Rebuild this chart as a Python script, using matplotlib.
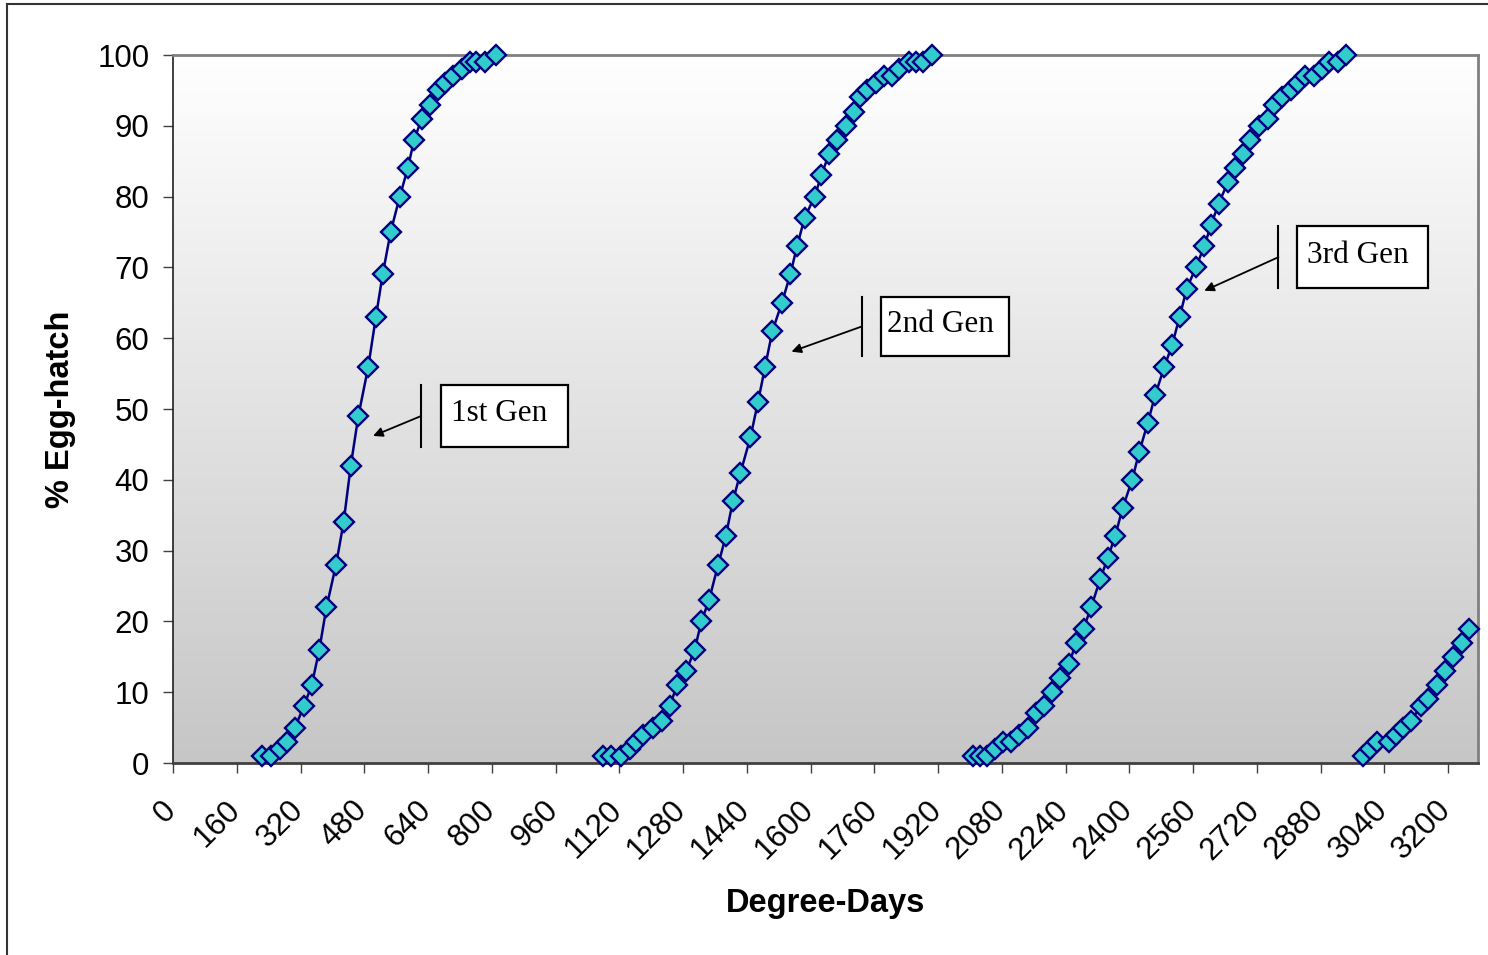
import numpy as np
import matplotlib.pyplot as plt
from matplotlib.colors import LinearSegmentedColormap
from matplotlib.patches import Rectangle
from matplotlib.lines import Line2D
from matplotlib.transforms import ScaledTranslation

plt.rcParams['font.family'] = ['Liberation Sans', 'DejaVu Sans']

# Degree-days and % egg-hatch for each generation
dd_gen1 = [222, 247, 268, 285, 306, 328, 348, 367, 385, 409, 428, 446, 465, 490, 509,
           526, 546, 569, 589, 605, 624, 645, 666, 682, 703, 724, 745, 761, 782, 811]
hatch_gen1 = [1, 1, 2, 3, 5, 8, 11, 16, 22, 28, 34, 42, 49, 56, 63,
              69, 75, 80, 84, 88, 91, 93, 95, 96, 97, 98, 99, 99, 99, 100]

dd_gen2 = [1079, 1100, 1125, 1146, 1163, 1180, 1205, 1226, 1246, 1265, 1288, 1309, 1326, 1345,
           1368, 1387, 1405, 1424, 1449, 1468, 1486, 1504, 1528, 1549, 1566, 1585, 1610, 1627,
           1646, 1665, 1690, 1708, 1723, 1741, 1765, 1783, 1804, 1823, 1848, 1865, 1882, 1905]
hatch_gen2 = [1, 1, 1, 2, 3, 4, 5, 6, 8, 11, 13, 16, 20, 23,
              28, 32, 37, 41, 46, 51, 56, 61, 65, 69, 73, 77, 80, 83,
              86, 88, 90, 92, 94, 95, 96, 97, 97, 98, 99, 99, 99, 100]

dd_gen3 = [2007, 2024, 2042, 2062, 2082, 2103, 2124, 2145, 2166, 2187, 2206, 2225, 2248, 2267,
           2285, 2304, 2327, 2346, 2364, 2383, 2407, 2425, 2446, 2465, 2488, 2507, 2526, 2544,
           2567, 2588, 2605, 2624, 2647, 2664, 2684, 2703, 2726, 2747, 2764, 2783, 2806, 2822,
           2842, 2864, 2883, 2902, 2923, 2944]
hatch_gen3 = [1, 1, 1, 2, 3, 3, 4, 5, 7, 8, 10, 12, 14, 17,
              19, 22, 26, 29, 32, 36, 40, 44, 48, 52, 56, 59, 63, 67,
              70, 73, 76, 79, 82, 84, 86, 88, 90, 91, 93, 94, 95, 96,
              97, 97, 98, 99, 99, 100]

dd_gen4 = [2987, 3004, 3021, 3051, 3069, 3086, 3107, 3131, 3150, 3172, 3191, 3212, 3234, 3253]
hatch_gen4 = [1, 2, 3, 3, 4, 5, 6, 8, 9, 11, 13, 15, 17, 19]

x_ticks = [0, 160, 320, 480, 640, 800, 960, 1120, 1280, 1440, 1600, 1760, 1920,
           2080, 2240, 2400, 2560, 2720, 2880, 3040, 3200]
y_ticks = [0, 10, 20, 30, 40, 50, 60, 70, 80, 90, 100]

fig = plt.figure(figsize=(14.88, 9.55), dpi=100)
ax = fig.add_axes([0.1163, 0.2010, 0.877, 0.7414])

# grey gradient plot background, white at the top
grad = np.linspace(0, 1, 256).reshape(-1, 1)
cmap = LinearSegmentedColormap.from_list('bg', ['#ffffff', '#c6c6c6'])
ax.imshow(grad, extent=[0, 1, 0, 1], origin='upper', transform=ax.transAxes,
          aspect='auto', cmap=cmap, zorder=0, interpolation='bilinear')

for dd, hatch in [(dd_gen1, hatch_gen1), (dd_gen2, hatch_gen2),
                  (dd_gen3, hatch_gen3), (dd_gen4, hatch_gen4)]:
    ax.plot(dd, hatch, color='#000080', lw=1.8, marker='D', ms=10,
            markerfacecolor='#33cccc', markeredgecolor='#000080', mew=1.7,
            zorder=3, clip_on=False)

ax.set_xlim(0, 3275)
ax.set_ylim(0, 100)
ax.set_xticks(x_ticks)
ax.set_yticks(y_ticks)
ax.set_xticklabels([str(t) for t in x_ticks], rotation=45, ha='right', va='top',
                   rotation_mode='anchor')
ax.tick_params(axis='both', labelsize=22.5, direction='out', length=7, width=1,
               color='#404040')
ax.tick_params(axis='x', pad=16)
ax.tick_params(axis='y', pad=10)
shift = ScaledTranslation(-12 / 100, 0, fig.dpi_scale_trans)
for lab in ax.get_xticklabels():
    lab.set_transform(lab.get_transform() + shift)

for side in ['top', 'right']:
    ax.spines[side].set_color('#808080')
    ax.spines[side].set_linewidth(2)
ax.spines['left'].set_color('#202020')
ax.spines['left'].set_linewidth(1.2)
ax.spines['bottom'].set_color('#404040')
ax.spines['bottom'].set_linewidth(2)

ax.set_xlabel('Degree-Days', fontsize=23.5, fontweight='bold')
ax.set_ylabel('% Egg-hatch', fontsize=23.5, fontweight='bold')
ax.xaxis.set_label_coords(0.5, -0.198)
ax.xaxis.label.set_va('center')
ax.yaxis.set_label_coords(-0.086, 0.5)
ax.yaxis.label.set_va('center')

# callouts: label, bar x, bar y range, arrow tip, box x range
callouts = [
    ('1st Gen', 622, (44.6, 53.4), (502, 46.2), (672, 991)),
    ('2nd Gen', 1728, (57.5, 65.8), (1552, 58.1), (1776, 2099)),
    ('3rd Gen', 2774, (67.1, 75.8), (2588, 66.7), (2821, 3150)),
]
for label, bx, (y0, y1), tip, (x0, x1) in callouts:
    ax.plot([bx, bx], [y0, y1], color='black', lw=1.5, zorder=4)
    ax.annotate('', xy=tip, xytext=(bx, (y0 + y1) / 2),
                arrowprops=dict(arrowstyle='-|>', color='black', lw=1.3,
                                mutation_scale=14, shrinkA=0, shrinkB=0),
                zorder=4)
    ax.add_patch(Rectangle((x0, y0), x1 - x0, y1 - y0, facecolor='white',
                           edgecolor='black', lw=1.6, zorder=4))
    ax.text((x0 + x1) / 2 - 12, (y0 + y1) / 2 + 0.3, label, ha='center', va='center',
            fontsize=22.5, family=['Liberation Serif', 'DejaVu Serif'], zorder=5)

# outer chart border (partially visible)
fig.add_artist(Line2D([7 / 1488, 7 / 1488], [0, 1 - 4 / 955], color='#333333', lw=1.5))
fig.add_artist(Line2D([7 / 1488, 1], [1 - 4 / 955, 1 - 4 / 955], color='#333333', lw=1.5))

fig.savefig('out.png', dpi=100)
